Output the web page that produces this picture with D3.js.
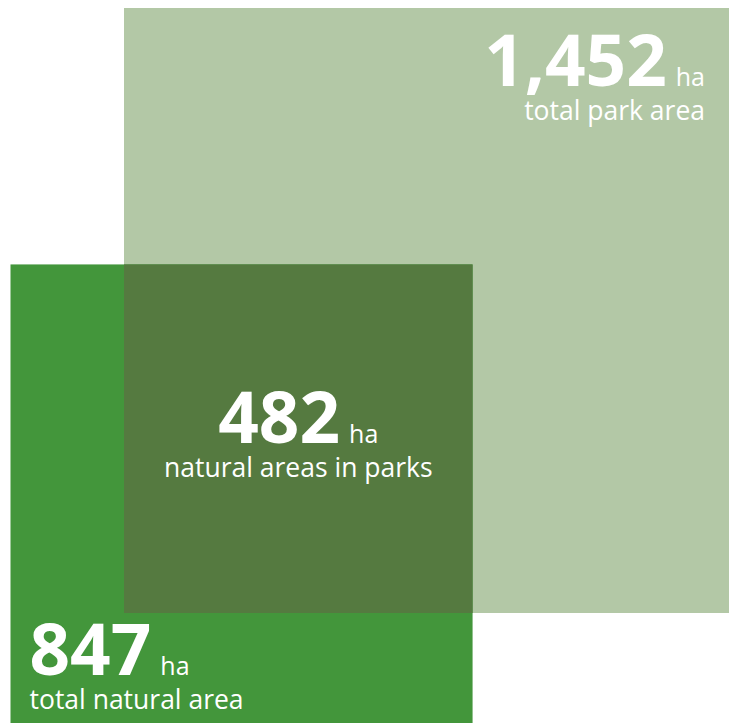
<!DOCTYPE html>
<html>
<head>
<meta charset="utf-8">
<script src="https://cdn.jsdelivr.net/npm/d3@7"></script>
<style>
  html, body { margin: 0; padding: 0; background: #fff; }
  svg { display: block; }
  .num { font-family: "Open Sans", sans-serif; font-weight: 700; fill: #fff; }
  .unit, .sub { font-family: "Open Sans", sans-serif; font-weight: 400; fill: #fff; }
</style>
</head>
<body>
<div id="chart"></div>
<script>
// areas in hectares
const keys = ["park", "natural", "overlap"]
const values = [1452, 847, 482]
const labels = ["total park area", "total natural area", "natural areas in parks"]
const unit = "ha"

const width = 734
const height = 723
const colors = { park: "#b3c8a6", natural: "#43963b", overlap: "#557a40" }

const svg = d3.select("#chart").append("svg")
  .attr("width", width)
  .attr("height", height)

// square side is proportional to sqrt(area)
const side = d3.scaleSqrt()
  .domain([0, values[0]])
  .range([0, 605])

const byKey = {}
keys.forEach((k, i) => byKey[k] = { key: k, value: values[i], label: labels[i], s: side(values[i]) })

// park square anchored top-right, overlap sits in its bottom-left corner,
// natural square shares the overlap's top-right corner
const park = byKey.park, nat = byKey.natural, ov = byKey.overlap
park.x = 729 - park.s
park.y = 8
ov.x = park.x
ov.y = park.y + park.s - ov.s
nat.x = ov.x + ov.s - nat.s
nat.y = ov.y

const squares = [park, nat, ov]

svg.append("g")
  .selectAll("rect")
  .data(squares)
  .join("rect")
  .attr("x", d => d.x)
  .attr("y", d => d.y)
  .attr("width", d => d.s)
  .attr("height", d => d.s)
  .attr("fill", d => colors[d.key])

const fmt = d3.format(",")

// label block: big number + unit on one line, description beneath
function addLabel(d, anchor, x, y) {
  const g = svg.append("g").attr("transform", `translate(${x},${y})`)
  const line = g.append("text").attr("text-anchor", anchor)
  line.append("tspan").attr("class", "num").attr("font-size", 71).text(fmt(d.value))
  line.append("tspan").attr("class", "unit").attr("font-size", 25).attr("dx", 9).text(unit)
  g.append("text")
    .attr("class", "sub")
    .attr("text-anchor", anchor)
    .attr("font-size", 26.5)
    .attr("y", 34)
    .text(d.label)
}

addLabel(park, "end", park.x + park.s - 24, park.y + 78)
addLabel(ov, "middle", ov.x + ov.s / 2, ov.y + 179)
addLabel(nat, "start", nat.x + 19, nat.y + 411)
</script>
</body>
</html>
